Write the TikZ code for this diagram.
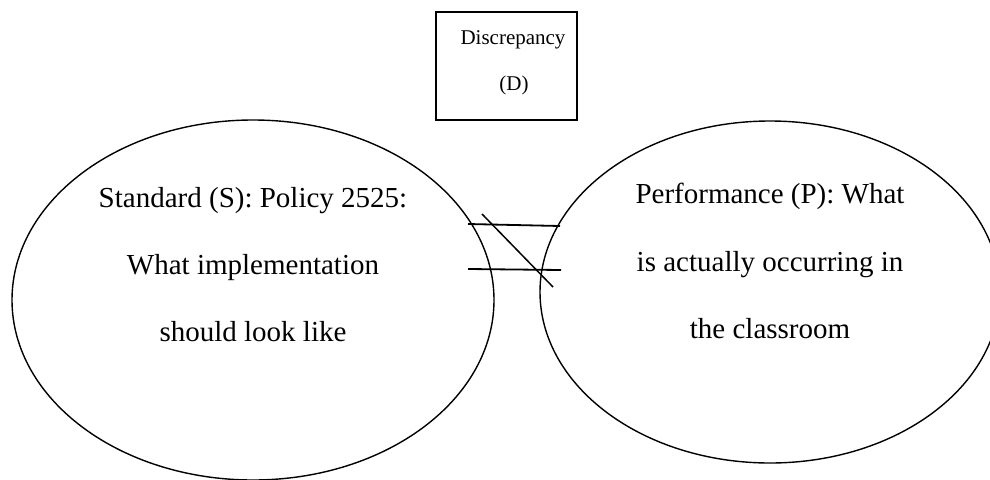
\documentclass[tikz,border=0pt]{standalone}
\usepackage{fontspec}
\setmainfont{Liberation Serif}
\usetikzlibrary{shapes.geometric}
\begin{document}
\begin{tikzpicture}[x=1pt,y=-1pt,
  oval/.style={draw,ellipse,line width=1.4pt,inner sep=0pt},
  bigtext/.style={anchor=base,font=\fontsize{29}{32}\selectfont,inner sep=0pt},
  smalltext/.style={anchor=base,font=\fontsize{21}{24}\selectfont,inner sep=0pt},
  neqline/.style={line width=1.8pt}]
\useasboundingbox (0,0) rectangle (990,479);
% discrepancy box
\draw[line width=2pt] (436,12) rectangle (577,120);
\node[smalltext] (disc) at (513,44) {Discrepancy};
\node[smalltext] (dlab) at (514,90) {(D)};
% ellipses
\node[oval,minimum width=482pt,minimum height=360pt] (S) at (253,300) {};
\node[oval,minimum width=460pt,minimum height=342pt] (P) at (770,292) {};
% texts
\node[bigtext] (s1) at (253,207) {Standard (S): Policy 2525:};
\node[bigtext] (s2) at (253,274) {What implementation};
\node[bigtext] (s3) at (253,341) {should look like};
\node[bigtext] (p1) at (770,203) {Performance (P): What};
\node[bigtext] (p2) at (770,271) {is actually occurring in};
\node[bigtext] (p3) at (770,338) {the classroom};
% not-equal mark
\coordinate (h1a) at (468,224); \coordinate (h1b) at (560,226);
\coordinate (h2a) at (468,269); \coordinate (h2b) at (561,270);
\coordinate (da) at (482,214); \coordinate (db) at (553,287);
\draw[neqline] (h1a) -- (h1b);
\draw[neqline] (h2a) -- (h2b);
\draw[line width=1.5pt] (da) -- (db);
\end{tikzpicture}
\end{document}
